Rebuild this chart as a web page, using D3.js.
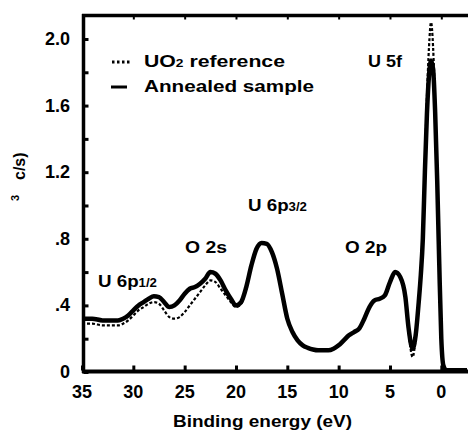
<!DOCTYPE html>
<html><head><meta charset="utf-8">
<script src="https://cdn.jsdelivr.net/npm/d3@7"></script>
<style>
html,body{margin:0;padding:0;background:#fff;}
svg text{font-family:"Liberation Sans",Arial,sans-serif;font-weight:bold;fill:#000;}
</style></head>
<body>
<svg id="c" width="468" height="439"></svg>
<script>
// Binding energies (eV)
const energy = [35,34,33,32,31.5,31,30.5,30,29.5,29,28.5,28,27.5,27,26.5,26,25.5,25,24.5,24,23.5,23,22.5,22,21.5,21,20.5,20,19.5,19,18.5,18,17.5,17,16.5,16,15.5,15,14.5,14,13.5,13,12.5,12,11.5,11,10.5,10,9.5,9,8.5,8,7.5,7,6.5,6,5.5,5,4.5,4,3.5,3.2,2.8,2.5,2.2,2.0,1.8,1.6,1.4,1.2,1.0,0.8,0.6,0.4,0.2,0.0,-0.2,-0.5,-1,-1.5,-2,-2.5];
// Annealed sample (solid)
const annealed = [0.32,0.32,0.31,0.31,0.31,0.32,0.34,0.37,0.40,0.42,0.44,0.455,0.45,0.42,0.39,0.40,0.43,0.47,0.50,0.51,0.53,0.56,0.60,0.59,0.55,0.49,0.44,0.40,0.42,0.51,0.64,0.74,0.775,0.77,0.72,0.62,0.47,0.32,0.24,0.19,0.16,0.145,0.135,0.13,0.13,0.13,0.14,0.16,0.19,0.22,0.24,0.26,0.32,0.39,0.43,0.44,0.46,0.54,0.60,0.57,0.45,0.27,0.14,0.22,0.42,0.58,0.80,1.20,1.55,1.78,1.87,1.82,1.56,1.15,0.65,0.20,0.04,0.01,0.01,0.01,0.01,0.01];
// UO2 reference (dotted)
const reference = [0.29,0.29,0.28,0.28,0.28,0.29,0.31,0.34,0.37,0.39,0.41,0.42,0.41,0.37,0.33,0.32,0.33,0.36,0.40,0.44,0.48,0.52,0.55,0.54,0.50,0.46,0.42,0.39,0.41,0.50,0.64,0.74,0.775,0.77,0.72,0.62,0.47,0.32,0.24,0.19,0.16,0.145,0.135,0.13,0.13,0.13,0.14,0.16,0.19,0.22,0.24,0.26,0.32,0.39,0.43,0.44,0.46,0.54,0.60,0.57,0.45,0.25,0.09,0.20,0.42,0.60,0.85,1.25,1.65,1.95,2.10,1.95,1.60,1.15,0.65,0.20,0.04,0.01,0.01,0.01,0.01,0.01];
const xTicks = [35,30,25,20,15,10,5,0];
const xTickLabels = ["35","30","25","20","15","10","5","0"];
const yTicks = [0,0.4,0.8,1.2,1.6,2.0];
const yTickLabels = ["0",".4",".8","1.2","1.6","2.0"];
const yMinor = [0.2,0.6,1.0,1.4,1.8];

const L=82, T=14, R=468, B=372;
const svg = d3.select("#c");
const x = d3.scaleLinear().domain([35,-2.6]).range([L,R]);
const y = d3.scaleLinear().domain([0,2.15]).range([B,T]);

const dataA = energy.map((e,i)=>[e,annealed[i]]);
const dataR = energy.map((e,i)=>[e,reference[i]]);
const line = d3.line().x(d=>x(d[0])).y(d=>y(d[1])).curve(d3.curveMonotoneX);

svg.append("defs").append("clipPath").attr("id","clip").append("rect")
  .attr("x",L).attr("y",T).attr("width",R-L).attr("height",B-T);
const g = svg.append("g").attr("clip-path","url(#clip)");
g.append("path").datum(dataA).attr("d",line).attr("fill","none")
  .attr("stroke","#000").attr("stroke-width",4.5).attr("stroke-linejoin","round");
g.append("path").datum(dataR).attr("d",line).attr("fill","none")
  .attr("stroke","#000").attr("stroke-width",2.2).attr("stroke-dasharray","3,2");

// Axes
const yAxis = d3.axisLeft(y).tickValues(yTicks.concat(yMinor)).tickSize(-5).tickFormat("");
const ga = svg.append("g").attr("transform",`translate(${L+1.5},0)`).call(yAxis);
ga.select(".domain").remove();
ga.selectAll(".tick line").attr("stroke","#000").attr("stroke-width",3);
const xAxisB = d3.axisBottom(x).tickValues(xTicks).tickSize(-5).tickFormat("");
const gb = svg.append("g").attr("transform",`translate(0,${B-1.5})`).call(xAxisB);
gb.select(".domain").remove();
gb.selectAll(".tick line").attr("stroke","#000").attr("stroke-width",3);
const xAxisT = d3.axisTop(x).tickValues(xTicks.slice(1)).tickSize(-4).tickFormat("");
const gt = svg.append("g").attr("transform",`translate(0,${T+1.5})`).call(xAxisT);
gt.select(".domain").remove();
gt.selectAll(".tick line").attr("stroke","#000").attr("stroke-width",2);

svg.append("line").attr("x1",L+1.5).attr("x2",L+1.5).attr("y1",T).attr("y2",B+1).attr("stroke","#000").attr("stroke-width",3.5);
svg.append("line").attr("x1",L).attr("x2",R).attr("y1",T+1.5).attr("y2",T+1.5).attr("stroke","#000").attr("stroke-width",3.5);
svg.append("line").attr("x1",L).attr("x2",R).attr("y1",B-0.5).attr("y2",B-0.5).attr("stroke","#000").attr("stroke-width",4);

// tick labels
svg.selectAll(".xl").data(xTicks).enter().append("text")
  .attr("x",d=>x(d)).attr("y",398).attr("text-anchor","middle").attr("font-size",18)
  .text((d,i)=>xTickLabels[i]);
svg.selectAll(".yl").data(yTicks).enter().append("text")
  .attr("x",70).attr("y",d=>y(d)+6).attr("text-anchor","end").attr("font-size",18)
  .text((d,i)=>yTickLabels[i]);

// axis titles
svg.append("text").attr("x",173).attr("y",427).attr("font-size",17)
  .attr("textLength",179).attr("lengthAdjust","spacingAndGlyphs")
  .text("Binding energy (eV)");
svg.append("text").attr("transform","translate(19,201) rotate(-90)").attr("font-size",11).text("3");
svg.append("text").attr("transform","translate(25,180) rotate(-90)").attr("font-size",16).text("c/s)");

// legend
svg.append("line").attr("x1",112).attr("x2",131).attr("y1",62).attr("y2",62)
  .attr("stroke","#000").attr("stroke-width",3).attr("stroke-dasharray","2.5,2.5");
svg.append("line").attr("x1",111).attr("x2",127).attr("y1",87).attr("y2",87)
  .attr("stroke","#000").attr("stroke-width",3);
const l1 = svg.append("text").attr("x",144).attr("y",67).attr("font-size",17)
  .attr("textLength",141).attr("lengthAdjust","spacingAndGlyphs");
l1.append("tspan").text("UO");
l1.append("tspan").attr("font-size",11).text("2");
l1.append("tspan").text(" reference");
svg.append("text").attr("x",144).attr("y",92).attr("font-size",17)
  .attr("textLength",170).attr("lengthAdjust","spacingAndGlyphs").text("Annealed sample");

// peak labels
function lab(px,py,main,sub,w){
  const t = svg.append("text").attr("x",px).attr("y",py).attr("font-size",17)
    .attr("textLength",w).attr("lengthAdjust","spacingAndGlyphs");
  t.append("tspan").text(main);
  if(sub) t.append("tspan").attr("font-size",12).text(sub);
}
lab(368,67,"U 5f",null,34);
lab(248,211,"U 6p","3/2",59);
lab(185,253,"O 2s",null,42);
lab(98,287,"U 6p","1/2",59);
lab(345,253,"O 2p",null,42);
</script>
</body></html>
